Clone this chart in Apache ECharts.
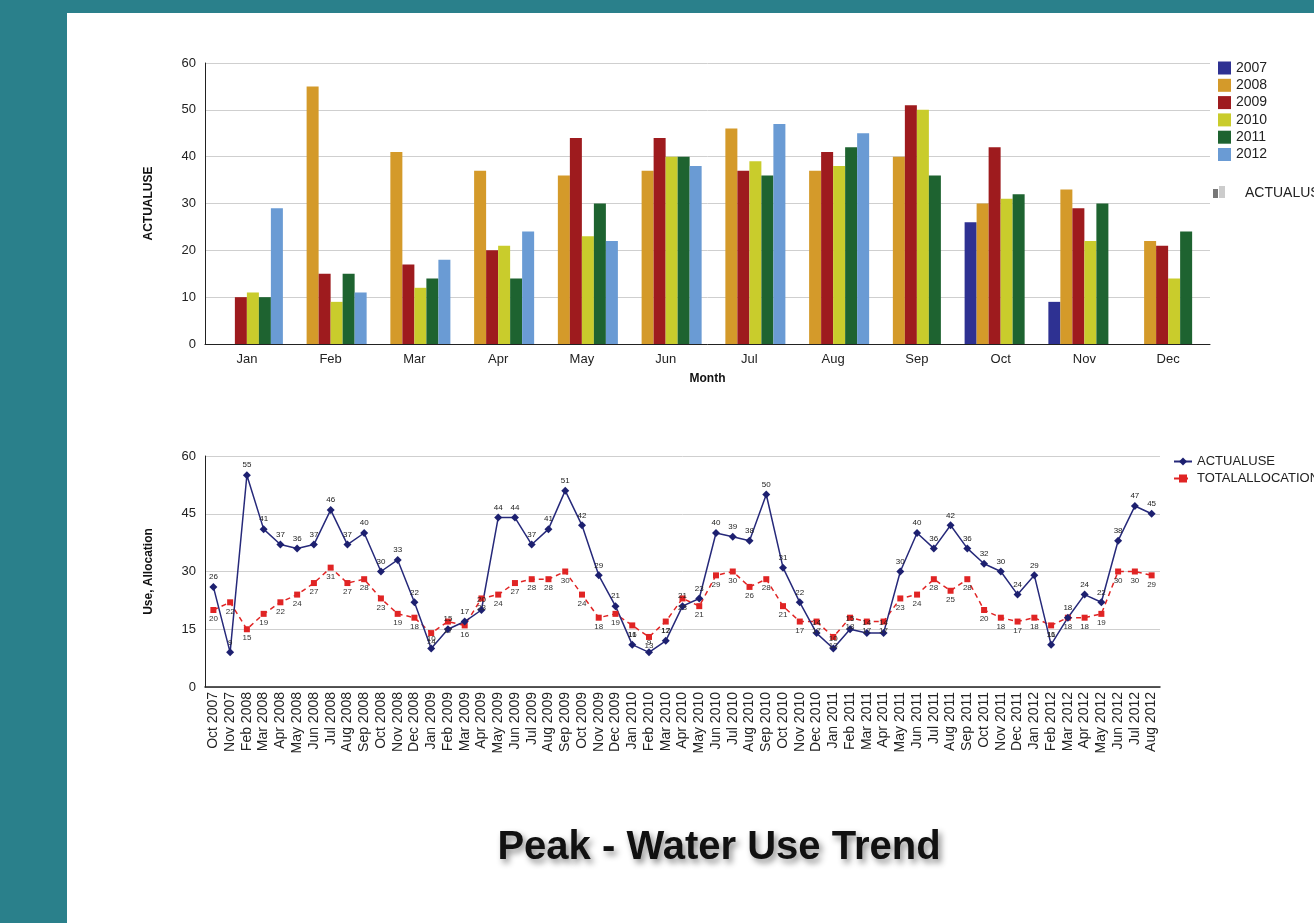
<!DOCTYPE html>
<html>
<head>
<meta charset="utf-8">
<script src="https://cdn.jsdelivr.net/npm/echarts@6/dist/echarts.min.js"></script>
<style>
html,body{margin:0;padding:0;background:#2a808b;}
#c{width:1314px;height:923px;}
</style>
</head>
<body>
<div id="c"></div>
<script>
const months = ['Jan','Feb','Mar','Apr','May','Jun','Jul','Aug','Sep','Oct','Nov','Dec'];
const years = ['2007','2008','2009','2010','2011','2012'];
const use2007 = [null,null,null,null,null,null,null,null,null,26,9,null];
const use2008 = [null,55,41,37,36,37,46,37,40,30,33,22];
const use2009 = [10,15,17,20,44,44,37,41,51,42,29,21];
const use2010 = [11,9,12,21,23,40,39,38,50,31,22,14];
const use2011 = [10,15,14,14,30,40,36,42,36,32,30,24];
const use2012 = [29,11,18,24,22,38,47,45,null,null,null,null];
const yearColors = ['#2e3192','#d49a2a','#9e1b1e','#c9cc2c','#1e6330','#6a9bd4'];

const periods = ['Oct 2007','Nov 2007','Feb 2008','Mar 2008','Apr 2008','May 2008','Jun 2008','Jul 2008','Aug 2008','Sep 2008','Oct 2008','Nov 2008','Dec 2008',
 'Jan 2009','Feb 2009','Mar 2009','Apr 2009','May 2009','Jun 2009','Jul 2009','Aug 2009','Sep 2009','Oct 2009','Nov 2009','Dec 2009',
 'Jan 2010','Feb 2010','Mar 2010','Apr 2010','May 2010','Jun 2010','Jul 2010','Aug 2010','Sep 2010','Oct 2010','Nov 2010','Dec 2010',
 'Jan 2011','Feb 2011','Mar 2011','Apr 2011','May 2011','Jun 2011','Jul 2011','Aug 2011','Sep 2011','Oct 2011','Nov 2011','Dec 2011',
 'Jan 2012','Feb 2012','Mar 2012','Apr 2012','May 2012','Jun 2012','Jul 2012','Aug 2012'];
const actualUse = [26,9,55,41,37,36,37,46,37,40,30,33,22,
 10,15,17,20,44,44,37,41,51,42,29,21,
 11,9,12,21,23,40,39,38,50,31,22,14,
 10,15,14,14,30,40,36,42,36,32,30,24,
 29,11,18,24,22,38,47,45];
const totalAllocation = [20,22,15,19,22,24,27,31,27,28,23,19,18,
 14,17,16,23,24,27,28,28,30,24,18,19,
 16,13,17,23,21,29,30,26,28,21,17,17,
 13,18,17,17,23,24,28,25,28,20,18,17,
 18,16,18,18,19,30,30,29];
const topTicks = [0,10,20,30,40,50,60];
const bottomTicks = [0,15,30,45,60];

const FONT = 'Liberation Sans, Arial, sans-serif';
const useByYear = [use2007,use2008,use2009,use2010,use2011,use2012];

const barSeries = years.map((y,i)=>({
  name: y, type:'bar', xAxisIndex:0, yAxisIndex:0,
  data: useByYear[i], barGap:'0%', barCategoryGap:'14%',
  itemStyle:{color:yearColors[i]}
}));

const chart = echarts.init(document.getElementById('c'));
chart.setOption({
  backgroundColor:'#2a808b',
  animation:false,
  textStyle:{fontFamily:FONT},
  graphic:[
    {type:'rect', shape:{x:67,y:13,width:1247,height:910}, style:{fill:'#ffffff'}, z:-10},
    {type:'rect', shape:{x:1213,y:189,width:5,height:9}, style:{fill:'#777'}},
    {type:'rect', shape:{x:1219,y:186,width:6,height:12}, style:{fill:'#ccc'}},
    {type:'text', x:1245, y:193, style:{text:'ACTUALUSE', font:'14px '+FONT, fill:'#222', textVerticalAlign:'middle'}},
    {type:'text', x:719, y:848, style:{text:'Peak - Water Use Trend', font:'bold 40px '+FONT, fill:'#111',
      textAlign:'center', textVerticalAlign:'middle', textShadowColor:'rgba(0,0,0,0.45)', textShadowBlur:6, textShadowOffsetX:3, textShadowOffsetY:4}}
  ],
  legend:[
    {data:years, orient:'vertical', left:1213, top:56, itemWidth:13, itemHeight:13, itemGap:3.3,
     textStyle:{fontSize:14, color:'#222', fontFamily:FONT}, icon:'rect'},
    {data:['ACTUALUSE','TOTALALLOCATION'], orient:'vertical', left:1168, top:450, itemWidth:18, itemHeight:10, itemGap:4,
     textStyle:{fontSize:13, color:'#222', fontFamily:FONT}}
  ],
  grid:[
    {left:205, top:63, width:1005, height:281, containLabel:false},
    {left:205, top:456, width:955, height:231, containLabel:false}
  ],
  xAxis:[
    {type:'category', gridIndex:0, data:months, name:'Month', nameLocation:'middle', nameGap:29,
     nameTextStyle:{fontWeight:'bold', fontSize:12, color:'#111'},
     axisLine:{lineStyle:{color:'#222'}}, axisTick:{show:false},
     axisLabel:{fontSize:13, color:'#222', margin:9}},
    {type:'category', gridIndex:1, data:periods,
     axisLine:{lineStyle:{color:'#222', width:1.5}}, axisTick:{show:false},
     axisLabel:{fontSize:14, color:'#222', rotate:90, interval:0, margin:5}}
  ],
  yAxis:[
    {type:'value', gridIndex:0, min:0, max:60, interval:10, name:'ACTUALUSE', nameLocation:'middle', nameGap:50,
     nameTextStyle:{fontWeight:'bold', fontSize:12, color:'#111'},
     axisLine:{show:true, lineStyle:{color:'#222'}}, axisTick:{show:false},
     axisLabel:{fontSize:13, color:'#222', margin:9},
     splitLine:{lineStyle:{color:'#cfcfcf'}}},
    {type:'value', gridIndex:1, min:0, max:60, interval:15, name:'Use, Allocation', nameLocation:'middle', nameGap:50,
     nameTextStyle:{fontWeight:'bold', fontSize:12, color:'#111'},
     axisLine:{show:true, lineStyle:{color:'#222'}}, axisTick:{show:false},
     axisLabel:{fontSize:13, color:'#222', margin:9},
     splitLine:{lineStyle:{color:'#cfcfcf'}}}
  ],
  series: barSeries.concat([
    {name:'TOTALALLOCATION', type:'line', xAxisIndex:1, yAxisIndex:1, data:totalAllocation,
     symbol:'rect', symbolSize:6, lineStyle:{color:'#e02424', width:1.5, type:[5,4]},
     itemStyle:{color:'#e02424'},
     label:{show:true, position:'bottom', fontSize:8, color:'#333', distance:2}},
    {name:'ACTUALUSE', type:'line', xAxisIndex:1, yAxisIndex:1, data:actualUse,
     symbol:'diamond', symbolSize:8, lineStyle:{color:'#26297a', width:1.5},
     itemStyle:{color:'#1d2070'},
     label:{show:true, position:'top', fontSize:8, color:'#222', distance:2}}
  ])
});
</script>
</body>
</html>
